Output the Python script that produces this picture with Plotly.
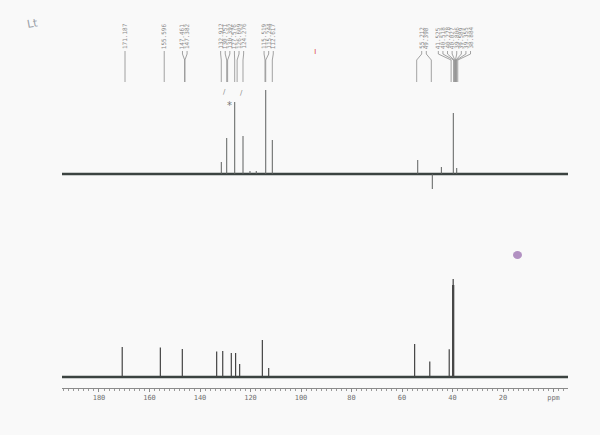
import plotly.graph_objects as go

W, H = 600, 435

# lower trace: broadband 13C spectrum (ppm, relative height)
bottom_ppm = [170.8, 155.7, 147.0, 133.4, 131.0, 127.6, 125.9, 124.3, 115.3, 112.8,
              55.0, 49.0, 41.3, 39.94, 39.73, 39.52]
bottom_int = [30, 29.5, 28, 25.5, 26, 24, 24, 13, 37, 9,
              33, 15.5, 27.7, 92, 98, 92]

# upper trace: expanded / edited spectrum
top_ppm = [132.9, 130.75, 127.57, 124.27, 121.5, 119.0, 115.24, 112.62,
           54.8, 49.0, 45.4, 40.65, 39.3]
top_int = [12, 36, 72, 38, 3, 3, 84, 34, 14, -15, 7, 61, 6]

# picked peak list printed above the upper trace
peak_labels = [171.187, 155.596, 147.461, 147.382, 132.912, 130.751, 130.392,
               127.576, 126.609, 124.276, 115.519, 115.244, 112.617,
               55.212, 49.398, 41.525, 40.518, 40.278, 40.027, 39.806,
               39.589, 39.355, 38.884]

tick_vals = [180, 160, 140, 120, 100, 80, 60, 40, 20, 0]
tick_text = ["180", "160", "140", "120", "100", "80", "60", "40", "20", "ppm"]

TOP_RANGE = [196.24, -4.95]
BOT_RANGE = [194.65, -5.74]
X_DOM = [62 / W, 568 / W]


def py(px):
    return 1 - px / H


def sticks(ppm, inten):
    xs, ys = [], []
    for p, v in zip(ppm, inten):
        xs += [p, p, None]
        ys += [0, v, None]
    return xs, ys


def spread_labels(vals, rng, d_px=4.6, gap_px=16):
    # fan out crowded labels, centered on each cluster's span
    ppx = (X_DOM[1] - X_DOM[0]) * W / (rng[0] - rng[1])
    d = d_px / ppx
    gap = gap_px / ppx
    groups = [[vals[0]]]
    for v in vals[1:]:
        if groups[-1][-1] - v < gap:
            groups[-1].append(v)
        else:
            groups.append([v])
    out = []
    for g in groups:
        mid = (g[0] + g[-1]) / 2
        n = len(g)
        out += [mid + ((n - 1) / 2 - i) * d for i in range(n)]
    return out


fig = go.Figure()

line_col = "#3b4341"
peak_col = "#5e6160"

# upper spectrum
fig.add_trace(go.Scatter(x=TOP_RANGE, y=[0, 0], mode="lines",
                         line=dict(color=line_col, width=2.6),
                         xaxis="x", yaxis="y", hoverinfo="skip"))
tx, ty = sticks(top_ppm, top_int)
fig.add_trace(go.Scatter(x=tx, y=ty, mode="lines",
                         line=dict(color=peak_col, width=1),
                         xaxis="x", yaxis="y", hoverinfo="skip"))

# lower spectrum
fig.add_trace(go.Scatter(x=BOT_RANGE, y=[0, 0], mode="lines",
                         line=dict(color=line_col, width=2.6),
                         xaxis="x2", yaxis="y2", hoverinfo="skip"))
bx, by = sticks(bottom_ppm, bottom_int)
fig.add_trace(go.Scatter(x=bx, y=by, mode="lines",
                         line=dict(color="#444", width=1.2),
                         xaxis="x2", yaxis="y2", hoverinfo="skip"))

# peak labels with connector lines
label_pos = spread_labels(peak_labels, TOP_RANGE)
shapes = []
annotations = []
for v, lx in zip(peak_labels, label_pos):
    path = (f"M {lx},{py(51)} L {lx},{py(54)} "
            f"L {v},{py(60)} L {v},{py(82)}")
    shapes.append(dict(type="path", path=path, xref="x", yref="paper",
                       line=dict(color="#8c8c8c", width=0.8)))
    annotations.append(dict(text=f"{v:.3f}", x=lx, xref="x", y=py(50), yref="paper",
                            xanchor="center", yanchor="bottom", textangle=-90,
                            showarrow=False, borderpad=0,
                            font=dict(family="DejaVu Sans Mono", size=6, color="#8a8a8a")))

# handwritten marks on the scan
annotations += [
    dict(text="Lt", x=24 / W, y=py(14), xref="paper", yref="paper", showarrow=False,
         font=dict(family="DejaVu Sans", size=11, color="#9aa0a8"), textangle=-10),
    dict(text="*", x=229 / W, y=py(98), xref="paper", yref="paper", showarrow=False,
         font=dict(family="DejaVu Sans", size=10, color="#777")),
    dict(text="/", x=224 / W, y=py(86), xref="paper", yref="paper", showarrow=False,
         font=dict(family="DejaVu Sans", size=7, color="#888")),
    dict(text="/", x=241 / W, y=py(87), xref="paper", yref="paper", showarrow=False,
         font=dict(family="DejaVu Sans", size=7, color="#888")),
    dict(text="ı", x=316 / W, y=py(44), xref="paper", yref="paper", showarrow=False,
         font=dict(family="DejaVu Sans", size=9, color="#e06060")),
]
shapes.append(dict(type="circle", xref="paper", yref="paper",
                   x0=513 / W, x1=522 / W, y0=py(259), y1=py(251),
                   fillcolor="rgba(120,60,150,0.55)", line=dict(width=0)))

axis_off = dict(visible=False, showgrid=False, zeroline=False)

fig.update_layout(
    width=W, height=H,
    margin=dict(l=0, r=0, t=0, b=0),
    paper_bgcolor="#f9f9f9", plot_bgcolor="rgba(0,0,0,0)",
    showlegend=False,
    xaxis=dict(domain=X_DOM, range=TOP_RANGE, anchor="y", **axis_off),
    yaxis=dict(domain=[py(195), py(60)], range=[-21, 114], anchor="x", **axis_off),
    xaxis2=dict(domain=X_DOM, range=BOT_RANGE, anchor="y2",
                showgrid=False, zeroline=False,
                showline=True, linecolor="#8a8a8a", linewidth=1,
                ticks="outside", ticklen=3, tickcolor="#8a8a8a",
                tickvals=tick_vals, ticktext=tick_text,
                minor=dict(dtick=2, ticks="outside", ticklen=2, tickcolor="#9a9a9a"),
                tickfont=dict(family="DejaVu Sans Mono", size=7, color="#707070")),
    yaxis2=dict(domain=[py(388), py(250)], range=[-11, 127], anchor="x2", **axis_off),
    shapes=shapes,
    annotations=annotations,
)

fig.write_html("out.html", config={"displayModeBar": False},
               post_script="document.body.style.margin='0';")
